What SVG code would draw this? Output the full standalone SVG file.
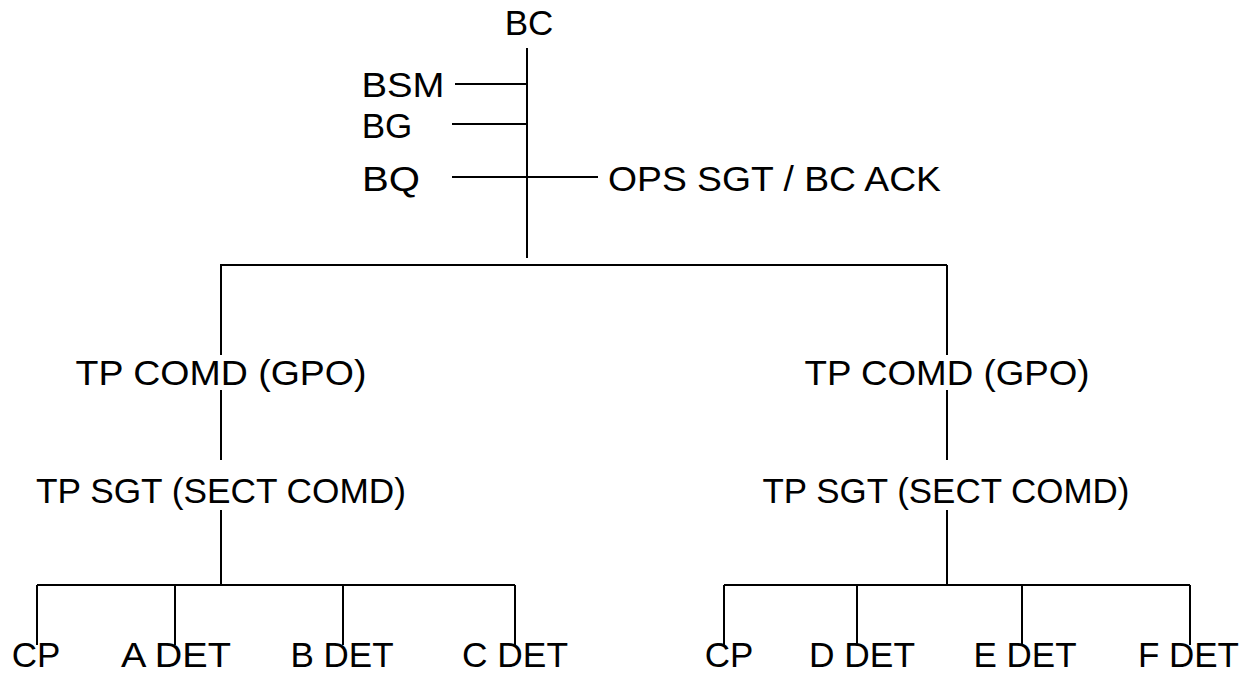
<svg xmlns="http://www.w3.org/2000/svg" width="1243" height="675" viewBox="0 0 1243 675">
<style>
text{font-family:"Liberation Sans",Arial,sans-serif;font-size:35px;fill:#000;text-anchor:middle}
.c line{stroke:#000;stroke-width:2;fill:none}
</style>
<rect width="1243" height="675" fill="#fff"/>
<g class="c" id="connectors">
<line x1="527" y1="48" x2="527" y2="258"/>
<line x1="455" y1="84" x2="527" y2="84"/>
<line x1="452" y1="124" x2="527" y2="124"/>
<line x1="452" y1="177" x2="598" y2="177"/>
<line x1="220" y1="265" x2="947" y2="265"/>
<line x1="221" y1="265" x2="221" y2="355"/>
<line x1="947" y1="265" x2="947" y2="355"/>
<line x1="221" y1="390" x2="221" y2="460"/>
<line x1="947" y1="390" x2="947" y2="460"/>
<line x1="221" y1="510" x2="221" y2="585"/>
<line x1="947" y1="510" x2="947" y2="585"/>
<line x1="37" y1="585" x2="515" y2="585"/>
<line x1="37" y1="585" x2="37" y2="645"/>
<line x1="175" y1="585" x2="175" y2="645"/>
<line x1="343" y1="585" x2="343" y2="645"/>
<line x1="515" y1="585" x2="515" y2="645"/>
<line x1="724" y1="585" x2="1190" y2="585"/>
<line x1="724" y1="585" x2="724" y2="645"/>
<line x1="857" y1="585" x2="857" y2="645"/>
<line x1="1022" y1="585" x2="1022" y2="645"/>
<line x1="1190" y1="585" x2="1190" y2="645"/>
</g>
<g id="bc"><text x="529" y="35">BC</text></g>
<g id="bsm"><text x="403" y="97" textLength="83" lengthAdjust="spacingAndGlyphs">BSM</text></g>
<g id="bg"><text x="387" y="138">BG</text></g>
<g id="bq"><text x="391" y="191" textLength="58" lengthAdjust="spacingAndGlyphs">BQ</text></g>
<g id="ops"><text x="608" y="191" style="text-anchor:start" textLength="333" lengthAdjust="spacingAndGlyphs">OPS SGT / BC ACK</text></g>
<g id="tpcomd-l"><text x="221" y="385" textLength="291" lengthAdjust="spacingAndGlyphs">TP COMD (GPO)</text></g>
<g id="tpcomd-r"><text x="947" y="385" textLength="285" lengthAdjust="spacingAndGlyphs">TP COMD (GPO)</text></g>
<g id="tpsgt-l"><text x="221" y="503" textLength="370" lengthAdjust="spacingAndGlyphs">TP SGT (SECT COMD)</text></g>
<g id="tpsgt-r"><text x="946" y="503" textLength="367" lengthAdjust="spacingAndGlyphs">TP SGT (SECT COMD)</text></g>
<g id="cp-l"><text x="36" y="667">CP</text></g>
<g id="adet"><text x="176" y="667" textLength="110" lengthAdjust="spacingAndGlyphs">A DET</text></g>
<g id="bdet"><text x="342" y="667">B DET</text></g>
<g id="cdet"><text x="515" y="667" textLength="106" lengthAdjust="spacingAndGlyphs">C DET</text></g>
<g id="cp-r"><text x="729" y="667">CP</text></g>
<g id="ddet"><text x="862" y="667" textLength="106" lengthAdjust="spacingAndGlyphs">D DET</text></g>
<g id="edet"><text x="1025" y="667">E DET</text></g>
<g id="fdet"><text x="1239" y="667" style="text-anchor:end">F DET</text></g>
</svg>
